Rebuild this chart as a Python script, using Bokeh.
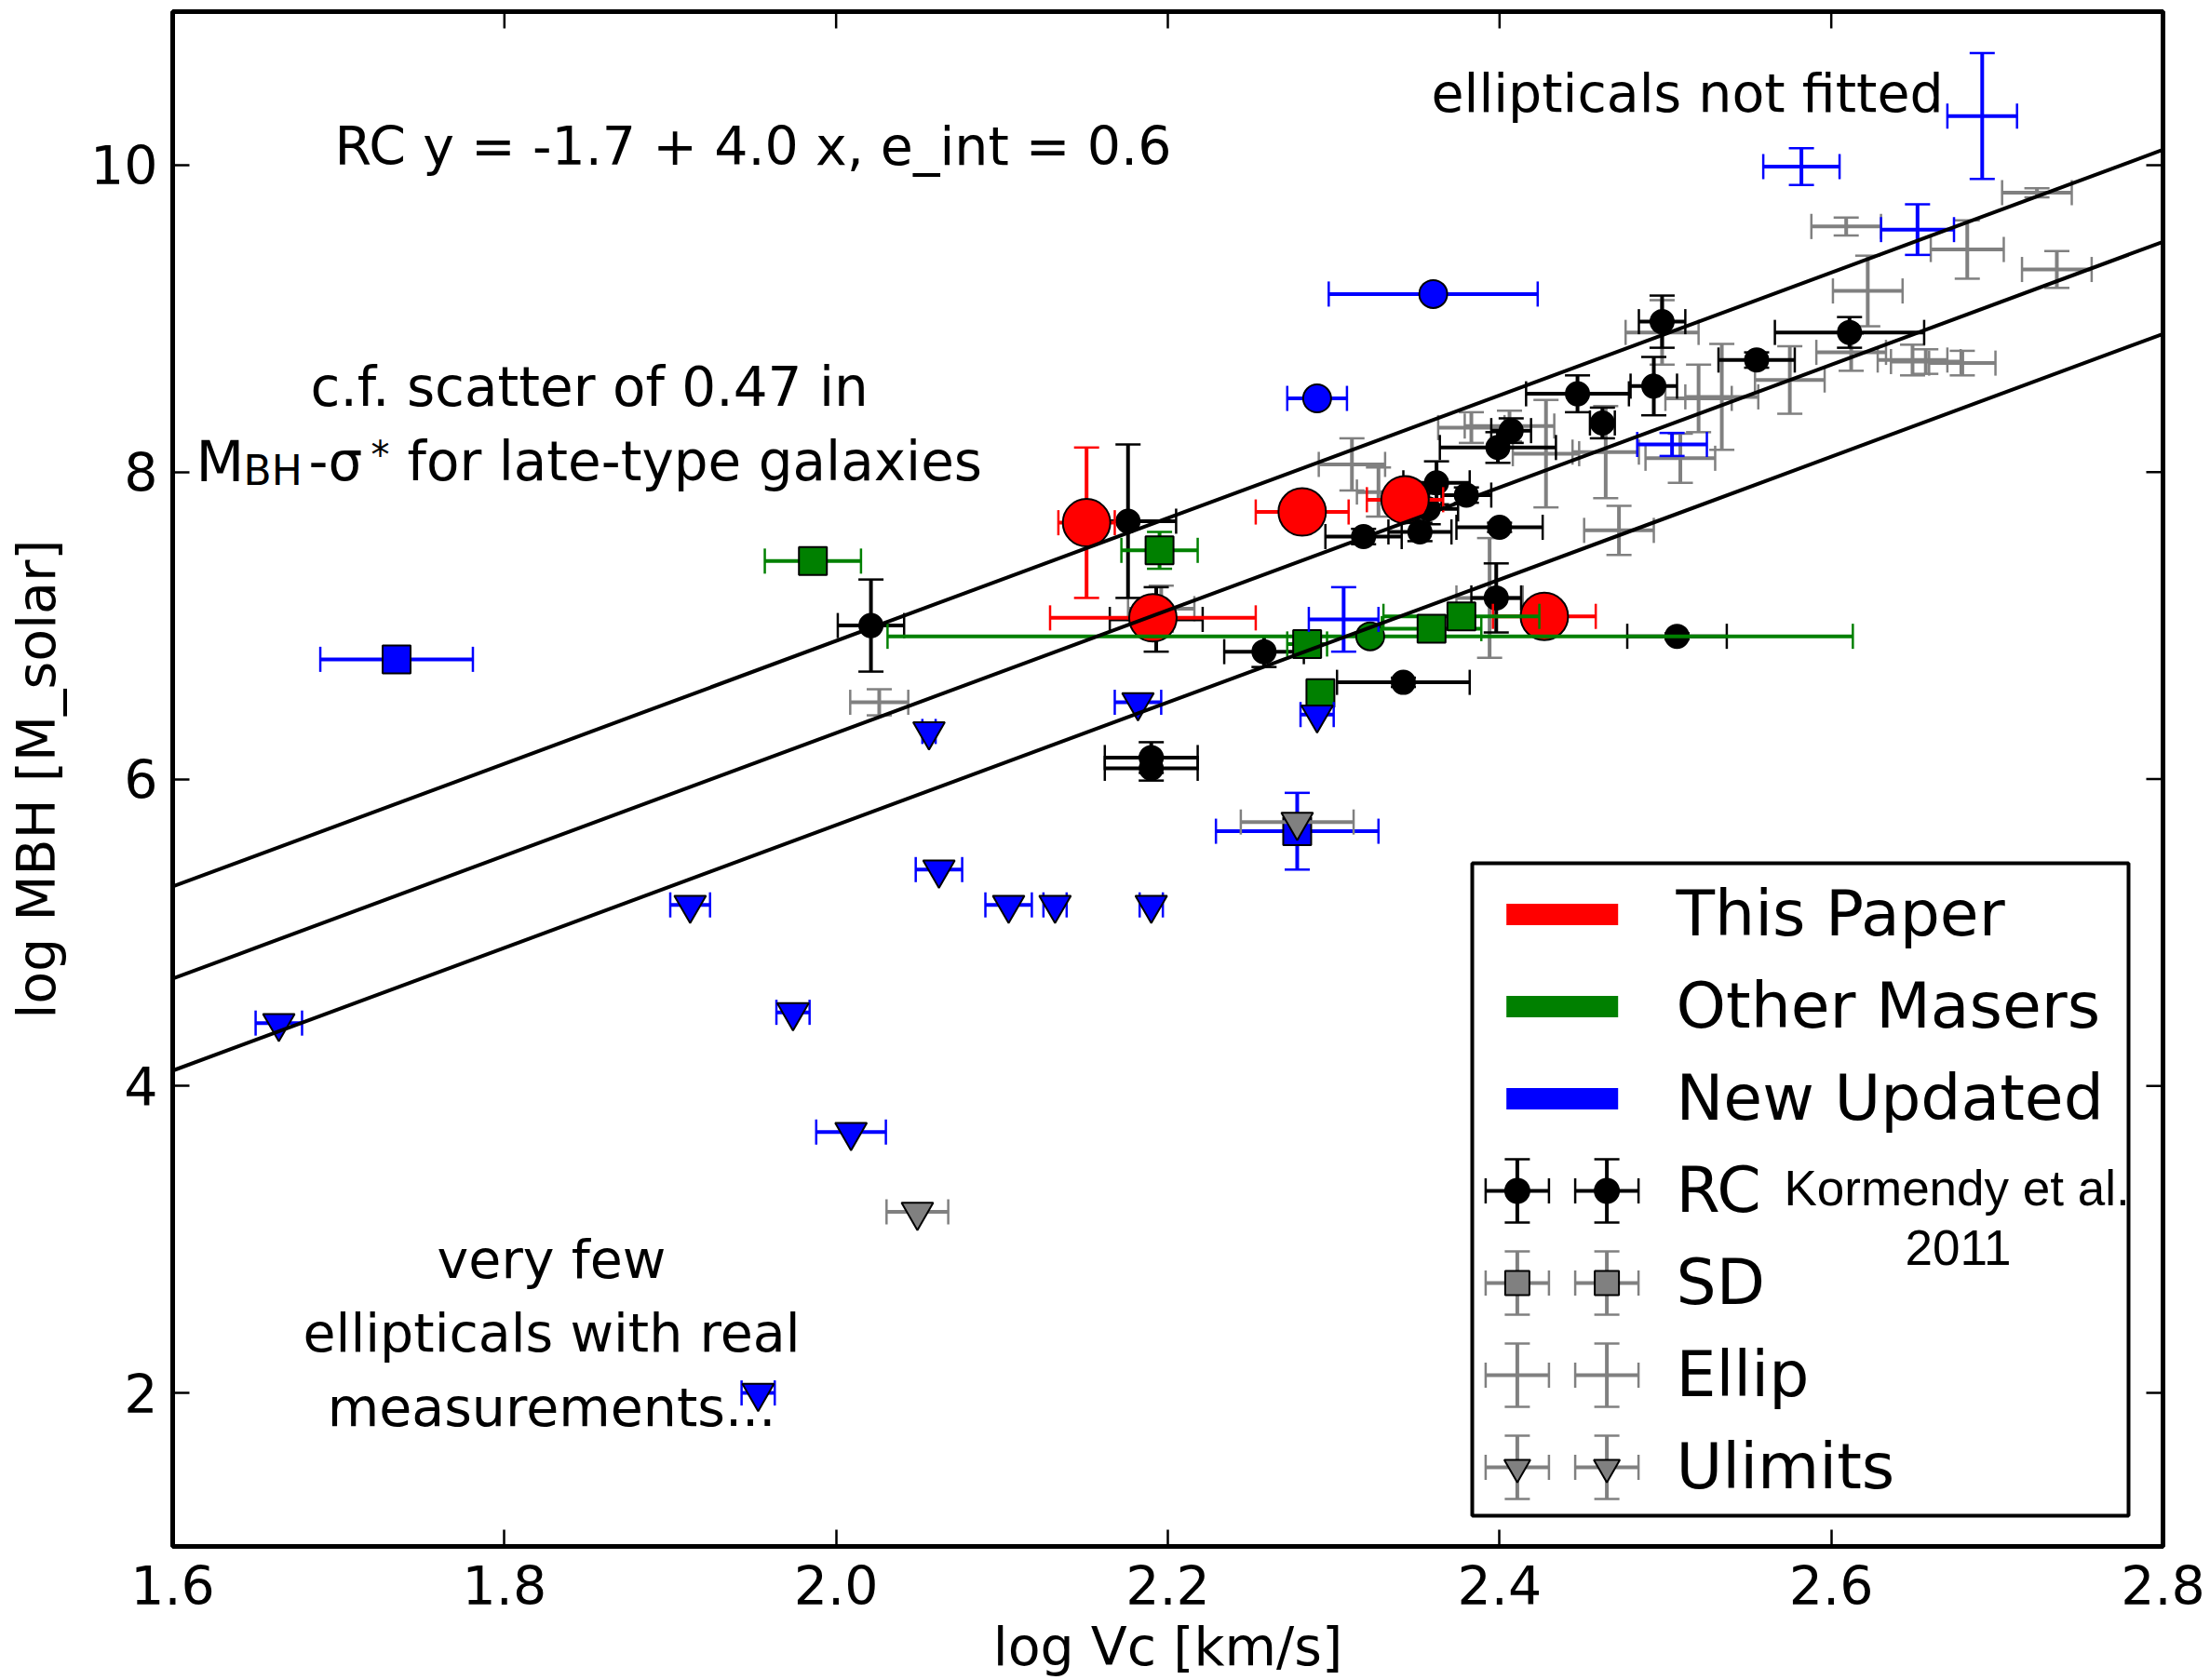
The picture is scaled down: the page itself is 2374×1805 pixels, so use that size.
import numpy as np
from bokeh.plotting import figure
from bokeh.models import Range1d, FixedTicker
from bokeh.core.properties import value
from bokeh.embed import file_html
from bokeh.resources import INLINE

# ------------------------------------------------------------------ data
# fit: RC y = -1.7 + 4.0 x, e_int = 0.6
FIT_INTERCEPT = -1.7
FIT_SLOPE = 4.0
FIT_SCATTER = 0.6

# This Paper (red, RC)
paper_x = [2.151, 2.191, 2.281, 2.343, 2.427]
paper_y = [7.67, 7.05, 7.74, 7.82, 7.06]
paper_xerr = [0.017, 0.062, 0.028, 0.023, 0.031]
paper_yerr = [0.49, 0.10, 0.0, 0.0, 0.0]

# Other Masers (green): squares (SD) and one circle (RC)
maser_sd_x = [1.986, 2.195, 2.284, 2.292, 2.359, 2.377]
maser_sd_y = [7.42, 7.49, 6.88, 6.56, 6.98, 7.06]
maser_sd_xerr = [0.029, 0.023, 0.012, 0.005, 0.030, 0.047]
maser_sd_yerr = [0.0, 0.12, 0.0, 0.0, 0.0, 0.0]
maser_rc_x = [2.322]
maser_rc_y = [6.93]
maser_rc_xerr = [0.291]
maser_rc_yerr = [0.0]

# New Updated (blue)
new_rc_x = [2.360, 2.290]
new_rc_y = [9.16, 8.48]
new_rc_xerr = [0.063, 0.018]
new_rc_yerr = [0.0, 0.0]
new_sd_x = [1.735, 2.278]
new_sd_y = [6.78, 5.66]
new_sd_xerr = [0.046, 0.049]
new_sd_yerr = [0.0, 0.25]
new_el_x = [2.582, 2.691, 2.652, 2.504, 2.306]
new_el_y = [9.99, 10.32, 9.58, 8.18, 7.04]
new_el_xerr = [0.023, 0.021, 0.022, 0.021, 0.021]
new_el_yerr = [0.12, 0.41, 0.165, 0.075, 0.21]
new_ul_x = [1.664, 1.912, 1.974, 2.009, 1.953, 2.056, 2.062, 2.104, 2.132, 2.190, 2.182, 2.290]
new_ul_y = [4.41, 5.18, 4.48, 3.70, 2.00, 6.31, 5.41, 5.18, 5.18, 5.18, 6.50, 6.42]
new_ul_xerr = [0.014, 0.012, 0.010, 0.021, 0.010, 0.004, 0.014, 0.014, 0.007, 0.007, 0.014, 0.010]

# Kormendy et al. 2011: RC (black)
rc_x = [2.021, 2.176, 2.193, 2.190, 2.190, 2.258, 2.318, 2.342, 2.352, 2.362, 2.357, 2.380,
        2.400, 2.398, 2.399, 2.407, 2.447, 2.462, 2.493, 2.498, 2.507, 2.555, 2.611]
rc_y = [7.00, 7.68, 7.04, 6.14, 6.07, 6.83, 7.58, 6.63, 7.61, 7.93, 7.76, 7.85,
        7.64, 7.18, 8.16, 8.27, 8.51, 8.32, 8.56, 8.98, 6.93, 8.73, 8.91]
rc_xerr = [0.020, 0.029, 0.028, 0.028, 0.028, 0.024, 0.023, 0.040, 0.019, 0.020, 0.018, 0.015,
           0.026, 0.015, 0.035, 0.012, 0.031, 0.0075, 0.014, 0.014, 0.030, 0.023, 0.045]
rc_yerr = [0.30, 0.50, 0.21, 0.10, 0.08, 0.10, 0.05, 0.03, 0.06, 0.14, 0.10, 0.05,
           0.03, 0.225, 0.10, 0.08, 0.12, 0.10, 0.19, 0.17, 0.02, 0.05, 0.10]

# Kormendy et al. 2011: Ellip (grey crosses)
el_x = [2.026, 2.196, 2.311, 2.327, 2.383, 2.406, 2.428, 2.464, 2.394, 2.472, 2.498, 2.509,
        2.520, 2.534, 2.575, 2.612, 2.649, 2.657, 2.679, 2.622, 2.609, 2.682, 2.736, 2.724]
el_y = [6.50, 7.11, 8.05, 7.87, 8.29, 8.30, 8.12, 8.13, 7.18, 7.62, 8.91, 8.09,
        8.48, 8.49, 8.60, 8.78, 8.73, 8.72, 8.71, 9.18, 9.60, 9.45, 9.32, 9.82]
el_xerr = [0.0175, 0.020, 0.020, 0.013, 0.020, 0.027, 0.020, 0.020, 0.020, 0.021, 0.022, 0.021,
           0.020, 0.022, 0.021, 0.021, 0.021, 0.021, 0.020, 0.021, 0.021, 0.022, 0.021, 0.021]
el_yerr = [0.085, 0.15, 0.17, 0.16, 0.10, 0.10, 0.35, 0.30, 0.39, 0.16, 0.21, 0.16,
           0.22, 0.345, 0.22, 0.12, 0.10, 0.08, 0.08, 0.23, 0.058, 0.19, 0.12, 0.03]

# Kormendy et al. 2011: Ulimits (grey triangles)
ul_x = [2.049, 2.278]
ul_y = [3.18, 5.72]
ul_xerr = [0.0186, 0.034]

x_ticks = [1.6, 1.8, 2.0, 2.2, 2.4, 2.6, 2.8]
x_tick_labels = ["1.6", "1.8", "2.0", "2.2", "2.4", "2.6", "2.8"]
y_ticks = [2, 4, 6, 8, 10]
y_tick_labels = ["2", "4", "6", "8", "10"]

legend_patch_labels = ["This Paper", "Other Masers", "New Updated"]
legend_type_labels = ["RC", "SD", "Ellip", "Ulimits"]

# ------------------------------------------------------------------ layout / style
W, H = 2374, 1805
FL, FR, FT, FB = 185, 2323, 12, 1661
X0, X1, Y0, Y1 = 1.6, 2.8, 1.0, 11.0
FONT = "DejaVu Sans"
RED, GREEN, BLUE, GREY = "#ff0000", "#008000", "#0000ff", "#808080"
BAR_W, CAP_W, CAP = 4, 2.5, 27
TICK_LEN = 18
BASE_SHIFT = 0.38   # em correction between wanted baseline and rendered text


def dx(px):
    return X0 + (px - FL) / (FR - FL) * (X1 - X0)


def dy(py):
    return Y1 - (py - FT) / (FB - FT) * (Y1 - Y0)


p = figure(width=W, height=H, output_backend="svg", toolbar_location=None,
           x_range=Range1d(X0, X1), y_range=Range1d(Y0, Y1),
           min_border_left=FL, min_border_right=W - FR,
           min_border_top=FT, min_border_bottom=H - FB)
p.xgrid.visible = False
p.ygrid.visible = False
p.background_fill_color = "white"
p.border_fill_color = "white"
p.outline_line_color = "black"
p.outline_line_width = 5


def style_axis(ax, ticks, overrides, label):
    ax.ticker = FixedTicker(ticks=ticks)
    ax.axis_line_color = None
    ax.major_tick_in = TICK_LEN
    ax.major_tick_out = 0
    ax.major_tick_line_width = 2.5
    ax.major_tick_line_color = "black"
    ax.minor_tick_line_color = None
    ax.major_label_overrides = overrides
    ax.major_label_text_font = FONT
    ax.major_label_text_font_size = "57px"
    ax.major_label_text_color = "black"
    ax.axis_label = label
    ax.axis_label_text_font = FONT
    ax.axis_label_text_font_size = "57px"
    ax.axis_label_text_font_style = "normal"
    ax.axis_label_text_color = "black"


style_axis(p.xaxis[0], x_ticks, dict(zip(x_ticks, x_tick_labels)), "log Vc [km/s]")
p.xaxis[0].major_label_standoff = 20
p.xaxis[0].axis_label_standoff = 9
style_axis(p.yaxis[0], y_ticks, dict(zip(y_ticks, y_tick_labels)), "log MBH [M_solar]")
p.yaxis[0].major_label_standoff = 16
p.yaxis[0].axis_label_standoff = 22

# inward ticks on the top and right edges of the frame
tdy = TICK_LEN / (FB - FT) * (Y1 - Y0)
tdx = TICK_LEN / (FR - FL) * (X1 - X0)
p.segment(x0=x_ticks, y0=[Y1] * len(x_ticks), x1=x_ticks, y1=[Y1 - tdy] * len(x_ticks),
          line_color="black", line_width=2.5)
p.segment(x0=[X1] * len(y_ticks), y0=y_ticks, x1=[X1 - tdx] * len(y_ticks), y1=y_ticks,
          line_color="black", line_width=2.5)


def errorbars(x, y, xerr, yerr, color):
    x = np.asarray(x, float)
    y = np.asarray(y, float)
    xerr = np.asarray(xerr, float)
    yerr = np.asarray(yerr, float)
    m = xerr > 0
    if m.any():
        p.segment(x0=x[m] - xerr[m], y0=y[m], x1=x[m] + xerr[m], y1=y[m],
                  line_color=color, line_width=BAR_W)
        p.scatter(x=np.concatenate([x[m] - xerr[m], x[m] + xerr[m]]),
                  y=np.concatenate([y[m], y[m]]), marker="dash", angle=np.pi / 2,
                  size=CAP, line_color=color, line_width=CAP_W)
    m = yerr > 0
    if m.any():
        p.segment(x0=x[m], y0=y[m] - yerr[m], x1=x[m], y1=y[m] + yerr[m],
                  line_color=color, line_width=BAR_W)
        p.scatter(x=np.concatenate([x[m], x[m]]),
                  y=np.concatenate([y[m] - yerr[m], y[m] + yerr[m]]), marker="dash",
                  size=CAP, line_color=color, line_width=CAP_W)


def markers(x, y, marker, size, fill):
    p.scatter(x=x, y=y, marker=marker, size=size, fill_color=fill,
              line_color="black", line_width=2)


# grey ellipticals
errorbars(el_x, el_y, el_xerr, el_yerr, GREY)
# black RC
errorbars(rc_x, rc_y, rc_xerr, rc_yerr, "black")
markers(rc_x, rc_y, "circle", 25, "black")
# red: this paper
errorbars(paper_x, paper_y, paper_xerr, paper_yerr, RED)
markers(paper_x, paper_y, "circle", 51, RED)
# green masers
errorbars(maser_rc_x, maser_rc_y, maser_rc_xerr, maser_rc_yerr, GREEN)
markers(maser_rc_x, maser_rc_y, "circle", 30, GREEN)
errorbars(maser_sd_x, maser_sd_y, maser_sd_xerr, maser_sd_yerr, GREEN)
markers(maser_sd_x, maser_sd_y, "square", 30, GREEN)
# blue new updated
errorbars(new_el_x, new_el_y, new_el_xerr, new_el_yerr, BLUE)
errorbars(new_rc_x, new_rc_y, new_rc_xerr, new_rc_yerr, BLUE)
markers(new_rc_x, new_rc_y, "circle", 30, BLUE)
errorbars(new_sd_x, new_sd_y, new_sd_xerr, new_sd_yerr, BLUE)
markers(new_sd_x, new_sd_y, "square", 30, BLUE)
errorbars(new_ul_x, new_ul_y, new_ul_xerr, [0] * len(new_ul_x), BLUE)
markers(new_ul_x, new_ul_y, "inverted_triangle", 34, BLUE)
# grey upper limits
errorbars(ul_x, ul_y, ul_xerr, [0] * len(ul_x), GREY)
markers(ul_x, ul_y, "inverted_triangle", 34, GREY)

# fit lines
fx = np.array([X0, X1])
for off in (FIT_SCATTER, 0.0, -FIT_SCATTER):
    p.line(fx, FIT_INTERCEPT + FIT_SLOPE * fx + off, line_color="black", line_width=4)


def txt(px, py, s, size, align="left", font=FONT):
    p.text(x=[dx(px)], y=[dy(py - BASE_SHIFT * size)], text=[s], text_font=value(font),
           text_font_size=value(f"{size}px"), text_align=align,
           text_baseline="alphabetic", text_color="black")


# annotations
txt(359, 178, "RC y = -1.7 + 4.0 x, e_int = 0.6", 57)
txt(1537, 121.5, "ellipticals not fitted", 57)
txt(333, 437.5, "c.f. scatter of 0.47 in", 58)
txt(210, 518, "M", 60)
txt(261, 522, "BH", 44)
txt(331, 518, "-σ", 58)
txt(398, 504, "*", 40)
txt(437, 518, "for late-type galaxies", 58)
txt(592, 1373.7, "very few", 57, "center")
txt(592, 1452.9, "ellipticals with real", 57, "center")
txt(592, 1532.8, "measurements...", 57, "center")

# legend
LEG_L, LEG_R, LEG_T, LEG_B = 1581, 2286, 927, 1628
p.quad(left=[dx(LEG_L)], right=[dx(LEG_R)], top=[dy(LEG_T)], bottom=[dy(LEG_B)],
       fill_color="white", line_color="black", line_width=4)
row0, row_step = 982, 99.0
text_x = 1800
for i, (lab, col) in enumerate(zip(legend_patch_labels, [RED, GREEN, BLUE])):
    ry = row0 + i * row_step
    p.rect(x=[dx(1677.7)], y=[dy(ry)], width=120, height=23, width_units="screen",
           height_units="screen", fill_color=col, line_color=None)
    txt(text_x, ry + 24.5, lab, 68)

hx = [1629.4, 1725.6]
ex = 34 / (FR - FL) * (X1 - X0)
ey = 34 / (FB - FT) * (Y1 - Y0)
type_style = [("black", "circle", "black"), (GREY, "square", GREY), (GREY, None, None),
              (GREY, "inverted_triangle", GREY)]
for j, (lab, (ecol, mk, fill)) in enumerate(zip(legend_type_labels, type_style)):
    ry = row0 + (3 + j) * row_step
    xs = [dx(h) for h in hx]
    ys = [dy(ry)] * 2
    errorbars(xs, ys, [ex, ex], [ey, ey], ecol)
    if mk is not None:
        markers(xs, ys, mk, 26 if mk != "inverted_triangle" else 28, fill)
    txt(text_x, ry + 24.5, lab, 68)

txt(1916, 1296.5, "Kormendy et al.", 53, font="Liberation Sans")
txt(2103, 1360, "2011", 53, align="center", font="Liberation Sans")

open("out.html", "w").write(file_html(p, INLINE))
